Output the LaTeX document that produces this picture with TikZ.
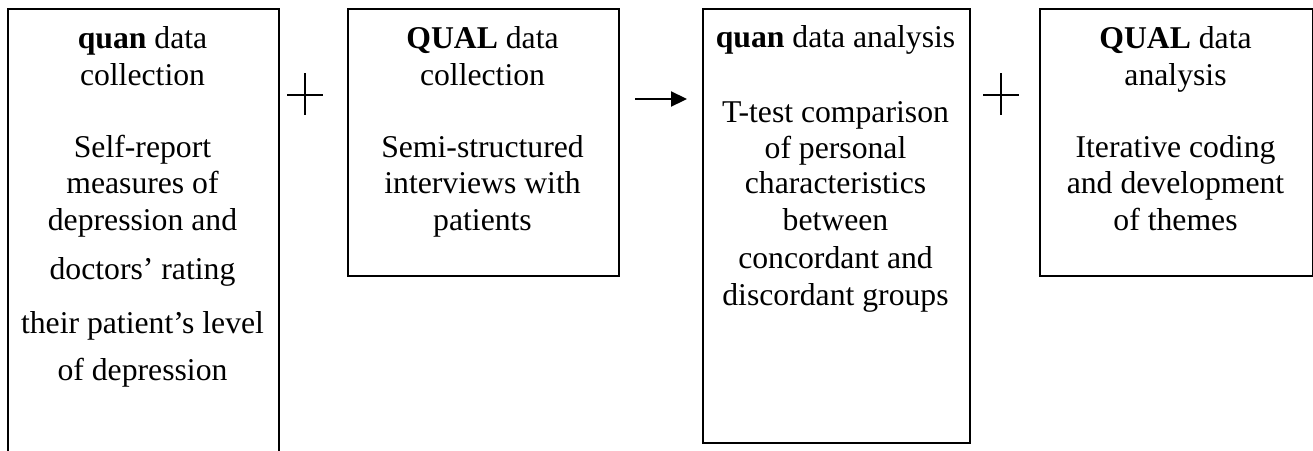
\documentclass[tikz,border=0pt]{standalone}
\usepackage{fontspec}
\setmainfont{Liberation Serif}
\usetikzlibrary{arrows.meta}
\tikzset{
  box/.style={draw=black, line width=2pt, rectangle, inner sep=0pt, anchor=north west},
  txt/.style={anchor=base, inner sep=0pt, font=\fontsize{31.7}{36}\selectfont},
  sym/.style={line width=2.2pt},
}
\begin{document}
\begin{tikzpicture}[x=1pt,y=-1pt]
\useasboundingbox (0,0) rectangle (1313,450);
\begin{scope}
\clip (0,0) rectangle (1313,450);
% boxes
\node[box, minimum width=271pt, minimum height=470pt] (b1) at (7,8) {};
\node[box, minimum width=271pt, minimum height=267pt] (b2) at (347,8) {};
\node[box, minimum width=267pt, minimum height=434pt] (b3) at (702,8) {};
\node[box, minimum width=273pt, minimum height=267pt] (b4) at (1039,8) {};
\end{scope}
% box 1 text
\node[txt] (t11) at (142.5,48) {\textbf{quan} data};
\node[txt] (t12) at (142.5,85) {collection};
\node[txt] (t13) at (142.5,157) {Self-report};
\node[txt] (t14) at (142.5,193) {measures of};
\node[txt] (t15) at (142.5,230) {depression and};
\node[txt] (t16) at (142.5,279) {doctors’ rating};
\node[txt] (t17) at (142.5,333) {their patient’s level};
\node[txt] (t18) at (142.5,380) {of depression};
% box 2 text
\node[txt] (t21) at (482.5,48) {\textbf{QUAL} data};
\node[txt] (t22) at (482.5,85) {collection};
\node[txt] (t23) at (482.5,157) {Semi-structured};
\node[txt] (t24) at (482.5,193) {interviews with};
\node[txt] (t25) at (482.5,230) {patients};
% box 3 text
\node[txt] (t31) at (835.5,47) {\textbf{quan} data analysis};
\node[txt] (t32) at (835.5,122) {T-test comparison};
\node[txt] (t33) at (835.5,158) {of personal};
\node[txt] (t34) at (835.5,193) {characteristics};
\node[txt] (t35) at (835.5,230) {between};
\node[txt] (t36) at (835.5,268) {concordant and};
\node[txt] (t37) at (835.5,305) {discordant groups};
% box 4 text
\node[txt] (t41) at (1175.5,48) {\textbf{QUAL} data};
\node[txt] (t42) at (1175.5,85) {analysis};
\node[txt] (t43) at (1175.5,157) {Iterative coding};
\node[txt] (t44) at (1175.5,193) {and development};
\node[txt] (t45) at (1175.5,230) {of themes};
% plus signs
\draw[sym] (287,95) -- (323,95) (305,73) -- (305,115);
\draw[sym] (983,95) -- (1019,95) (1001,73) -- (1001,115);
% arrow
\coordinate (a1) at (635,99);
\coordinate (a2) at (687,99);
\draw[sym, -{Triangle[length=16pt,width=15pt]}] (a1) -- (a2);
\end{tikzpicture}
\end{document}
